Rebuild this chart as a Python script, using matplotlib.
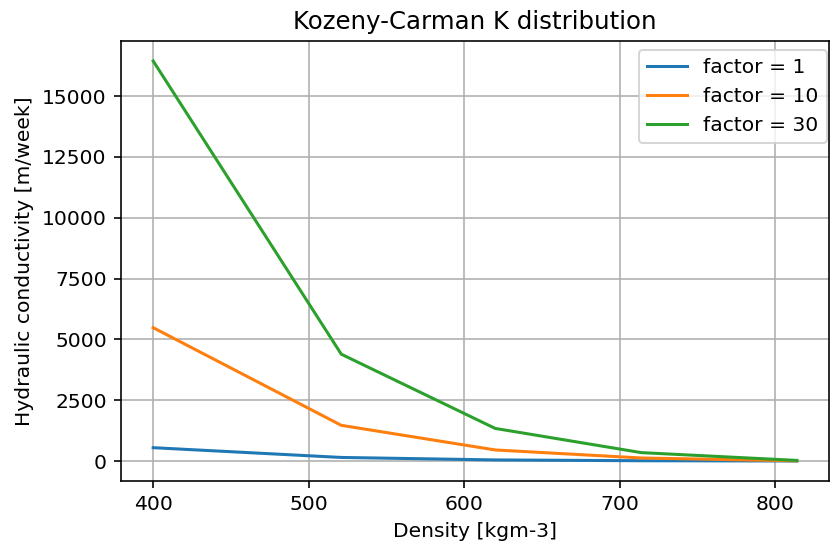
import matplotlib
matplotlib.use("Agg")
import matplotlib.pyplot as plt

density = [400, 521, 620, 714, 814]
k_factor_1 = [548, 147, 45, 12, 1]
k_factor_10 = [5480, 1467, 455, 125, 8]
k_factor_30 = [16440, 4390, 1340, 345, 25]
labels = ["factor = 1", "factor = 10", "factor = 30"]

DPI = 146
fig = plt.figure(figsize=(830 / DPI, 546 / DPI), dpi=DPI)
ax = fig.add_axes([121 / 830, 1 - 481 / 546, (829 - 121) / 830, (481 - 41) / 546])

for series, label in zip([k_factor_1, k_factor_10, k_factor_30], labels):
    ax.plot(density, series, label=label)

ax.set_title("Kozeny-Carman K distribution")
ax.set_xlabel("Density [kgm-3]")
ax.set_ylabel("Hydraulic conductivity [m/week]")
ax.set_xticks([400, 500, 600, 700, 800])
ax.set_yticks([0, 2500, 5000, 7500, 10000, 12500, 15000])
ax.grid(True)
ax.legend(loc="upper right", bbox_to_anchor=(0.997, 0.98), borderaxespad=0.0)

fig.savefig("out.png", dpi=DPI)
